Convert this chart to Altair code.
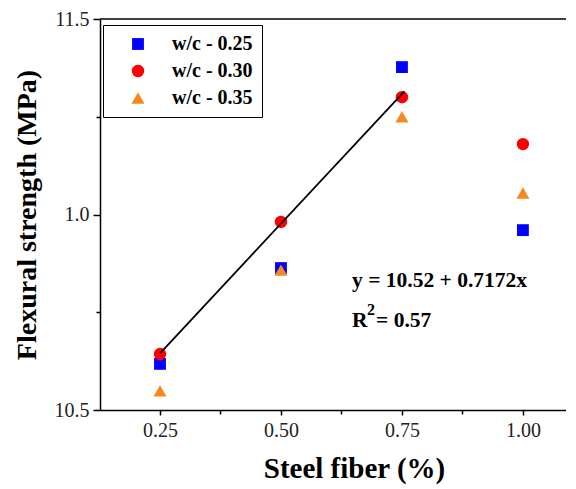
import altair as alt
import pandas as pd

fiber = [0.25, 0.50, 0.75, 1.00]
wc025 = [10.618, 10.863, 11.377, 10.960]
wc030 = [10.643, 10.981, 11.300, 11.180]
wc035 = [10.549, 10.858, 11.250, 11.055]
series = ["w/c - 0.25", "w/c - 0.30", "w/c - 0.35"]
colors = ["#0000ff", "#ff0000", "#f5891e"]
shapes = ["square", "circle", "triangle-up"]
fit_x = [0.25, 0.755]
fit_y = [10.645, 11.315]
x_ticks = [0.25, 0.50, 0.75, 1.00]
x_minor = [0.375, 0.625, 0.875]
y_ticks = [10.5, 11.0, 11.5]
y_minor = [10.75, 11.25]
eq_text = "y = 10.52 + 0.7172x"
r_text = ["R", "2", "= 0.57"]
ann_x = 0.647
eq_y = 10.815
r_y = 10.712

W, H = 466, 391
SERIF = "Liberation Serif"
xdom = [0.126, 1.089]
ydom = [10.5, 11.5]

rows = []
for name, vals in zip(series, [wc025, wc030, wc035]):
    for f, v in zip(fiber, vals):
        rows.append({"fiber": f, "strength": v, "series": name})
df = pd.DataFrame(rows)
df["order"] = range(len(df))

xscale = alt.Scale(domain=xdom, nice=False, zero=False)
yscale = alt.Scale(domain=ydom, nice=False, zero=False)

xaxis = alt.Axis(values=x_ticks, format=".2f", title="Steel fiber (%)", orient="bottom",
                 labelFont=SERIF, labelFontSize=20, labelColor="#222", labelPadding=5,
                 tickSize=5, tickColor="black", tickWidth=1.5, domainColor="black", domainWidth=1.5,
                 grid=False, titleFont=SERIF, titleFontSize=29, titleFontWeight="bold",
                 titleColor="black", titleX=254, titleY=67, titleAlign="center",
                 titleBaseline="alphabetic")
yaxis = alt.Axis(values=y_ticks, title="Flexural strength (MPa)", orient="left",
                 labelExpr="datum.value == 11 ? '1.0' : format(datum.value, '.1f')",
                 labelFont=SERIF, labelFontSize=20, labelColor="#222", labelPadding=4,
                 tickSize=7, tickColor="black", tickWidth=1.5, domainColor="black", domainWidth=1.5,
                 grid=False, titleFont=SERIF, titleFontSize=28, titleFontWeight="bold",
                 titleColor="black", titlePadding=13)

points = alt.Chart(df).mark_point(filled=True, opacity=1, strokeWidth=0).encode(
    x=alt.X("fiber:Q", scale=xscale, axis=xaxis),
    y=alt.Y("strength:Q", scale=yscale, axis=yaxis),
    color=alt.Color("series:N", scale=alt.Scale(domain=series, range=colors),
                    legend=alt.Legend(title=None, orient="none", legendX=3, legendY=6,
                                      strokeColor="black", padding=9, rowPadding=7,
                                      labelFont=SERIF, labelFontSize=20, labelFontWeight="bold",
                                      labelColor="black", symbolOffset=16, labelOffset=24,
                                      symbolStrokeWidth=0)),
    shape=alt.Shape("series:N", scale=alt.Scale(domain=series, range=shapes)),
    size=alt.Size("series:N", scale=alt.Scale(domain=series, range=[140, 170, 240])),
    order=alt.Order("order:Q"),
)

minor = alt.Chart(df).mark_point(opacity=0).encode(
    x=alt.X("fiber:Q", scale=xscale,
            axis=alt.Axis(values=x_minor, labels=False, title=None, domain=False, grid=False,
                          tickSize=4, tickColor="black", tickWidth=1.5, orient="bottom")),
    y=alt.Y("strength:Q", scale=yscale,
            axis=alt.Axis(values=y_minor, labels=False, title=None, domain=False, grid=False,
                          tickSize=4, tickColor="black", tickWidth=1.5, orient="left")),
)

fit = alt.Chart(pd.DataFrame({"fiber": fit_x, "strength": fit_y})).mark_line(
    color="black", strokeWidth=1.8).encode(
    x=alt.X("fiber:Q", scale=xscale, axis=None), y=alt.Y("strength:Q", scale=yscale, axis=None))

top = alt.Chart(pd.DataFrame({"a": [0]})).mark_rule(color="black", strokeWidth=1.5).encode(
    x=alt.value(0), x2=alt.value(W), y=alt.value(0))

txt = dict(font=SERIF, fontWeight="bold", color="black", align="left", baseline="alphabetic")


def text_layer(t, size, dx=0, dy=0, y=r_y):
    return alt.Chart(pd.DataFrame({"x": [ann_x], "y": [y], "t": [t]})).mark_text(
        fontSize=size, dx=dx, dy=dy, **txt).encode(
        x=alt.X("x:Q", scale=xscale, axis=None),
        y=alt.Y("y:Q", scale=yscale, axis=None), text="t:N")


eq = text_layer(eq_text, 21.5, y=eq_y)
r1 = text_layer(r_text[0], 21.5)
r2 = text_layer(r_text[1], 16, dx=15, dy=-12)
r3 = text_layer(r_text[2], 21.5, dx=24)

chart = alt.layer(minor, points, fit, top, eq, r1, r2, r3).resolve_axis(
    x="independent", y="independent"
).properties(
    width=W, height=H, autosize="none",
    padding={"left": 92, "top": 11, "right": 0, "bottom": 78},
    background="white",
).configure_view(stroke=None)

chart.save("out.html", embed_options={"renderer": "svg", "actions": False})
